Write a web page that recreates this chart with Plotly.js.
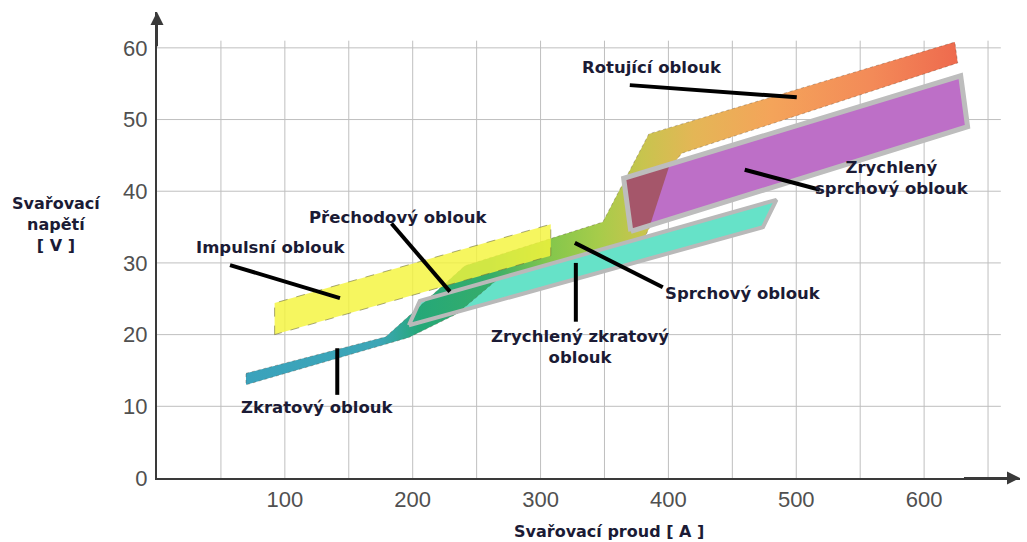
<!DOCTYPE html>
<html>
<head>
<meta charset="utf-8">
<script src="https://cdn.plot.ly/plotly-3.0.1.min.js"></script>
<style>html,body{margin:0;padding:0;background:#fff;}#chart{width:1027px;height:542px;}</style>
</head>
<body>
<div id="chart"></div>
<script>
// ---- Axes / ticks ----
const xTickVals = [100, 200, 300, 400, 500, 600];
const yTickVals = [0, 10, 20, 30, 40, 50, 60];
const xGridVals = [50, 100, 150, 200, 250, 300, 350, 400, 450, 500, 550, 600, 650];
const yGridVals = [10, 20, 30, 40, 50, 60];

// ---- Regions (current A, voltage V) ----
// main band: short arc -> transitional -> spray -> rotating arc
const bandX = [69.6, 179, 240.8, 348.7, 384.7, 624, 626.3, 410.5, 401.1, 385.5, 381.5, 268.2, 234.6, 197, 69.6];
const bandY = [14.6, 19.7, 29.6, 35.7, 48.0, 60.8, 57.9, 45.3, 43.2, 35.0, 33.6, 28.0, 22.9, 19.6, 13.0];
const bandStopX = [70, 175, 205, 262, 305, 345, 380, 420, 480, 560, 626];
const bandStopColor = ['#3aa2bc', '#3ca6b6', '#25a878', '#36ad6a', '#82c64c', '#a6cc4a', '#c8c44e', '#e4b656', '#f4a45a', '#f38a58', '#ee6a4e'];

// pulsed arc (Impulsní oblouk)
const impulsX = [92, 92, 308, 308];
const impulsY = [20.0, 24.4, 35.4, 31.0];

// accelerated short arc (Zrychlený zkratový oblouk)
const zzX = [197, 205.6, 484.5, 474];
const zzY = [21.3, 24.7, 38.8, 35.0];

// accelerated spray arc (Zrychlený sprchový oblouk)
const zsX = [370.6, 365, 628.6, 634];
const zsY = [34.4, 41.8, 56.1, 49.0];

// overlap of ramp with accelerated spray arc
const ovX = [370.6, 365, 401, 385.5];
const ovY = [34.4, 41.8, 43.7, 35.2];

// ---- Labels ----
const labelText = ['Rotující oblouk', 'Zrychlený<br>sprchový oblouk', 'Impulsní oblouk', 'Přechodový oblouk', 'Sprchový oblouk', 'Zrychlený zkratový<br>oblouk', 'Zkratový oblouk'];
const labelX = [387, 574.7, 88.4, 189.2, 458.2, 330.7, 125.9];
const labelY = [57.2, 41.8, 32.1, 36.4, 25.8, 18.3, 9.8];

// ---- Pointer lines ----
const pointerStartX = [369.8, 459.7, 57.1, 183.4, 326.8, 327.6, 141];
const pointerStartY = [54.8, 43.0, 29.7, 35.5, 32.8, 30.0, 18.1];
const pointerEndX = [500.4, 518.4, 143.1, 229.1, 395.6, 327.6, 141];
const pointerEndY = [53.1, 40.2, 25.1, 26.0, 26.6, 21.8, 11.6];

const xTitle = 'Svařovací proud [ A ]';
const yTitle = 'Svařovací<br>napětí<br>[ V ]';

function closed(a) { return a.concat([a[0]]); }

const TEXTC = '#1b1b35';
const traces = [];

traces.push({x: closed(zzX), y: closed(zzY), mode: 'lines', fill: 'toself', fillcolor: '#66e2c8', line: {width: 0}, hoverinfo: 'skip'});

const span = bandStopX[bandStopX.length - 1] - bandStopX[0];
traces.push({
  x: closed(bandX), y: closed(bandY), mode: 'lines', fill: 'toself',
  line: {width: 1, color: 'rgba(90,70,50,0.35)', dash: 'dot'},
  fillgradient: {type: 'horizontal', start: bandStopX[0], stop: bandStopX[bandStopX.length - 1],
    colorscale: bandStopX.map((v, i) => [(v - bandStopX[0]) / span, bandStopColor[i]])},
  hoverinfo: 'skip'
});

traces.push({x: closed(impulsX), y: closed(impulsY), mode: 'lines', fill: 'toself', fillcolor: 'rgba(244,244,60,0.82)', line: {width: 1, color: 'rgba(110,110,60,0.6)', dash: 'dash'}, hoverinfo: 'skip'});

traces.push({x: closed(zsX), y: closed(zsY), mode: 'lines', fill: 'toself', fillcolor: '#bd6fc7', line: {width: 0}, hoverinfo: 'skip'});
traces.push({x: closed(ovX), y: closed(ovY), mode: 'lines', fill: 'toself', fillcolor: '#a5566a', line: {width: 0}, hoverinfo: 'skip'});

traces.push({x: closed(zzX), y: closed(zzY), mode: 'lines', line: {width: 4, color: '#b9b9b9'}, hoverinfo: 'skip'});
traces.push({x: closed(zsX), y: closed(zsY), mode: 'lines', line: {width: 5, color: '#bdbdbd'}, hoverinfo: 'skip'});

const px = [], py = [];
for (let i = 0; i < pointerStartX.length; i++) {
  px.push(pointerStartX[i], pointerEndX[i], null);
  py.push(pointerStartY[i], pointerEndY[i], null);
}
traces.push({x: px, y: py, mode: 'lines', line: {width: 4, color: '#000'}, hoverinfo: 'skip'});

const shapes = [];
xGridVals.forEach(v => shapes.push({type: 'line', xref: 'x', yref: 'y', x0: v, x1: v, y0: 0, y1: 61, layer: 'below', line: {color: '#bfbfbf', width: 1}}));
yGridVals.forEach(v => shapes.push({type: 'line', xref: 'x', yref: 'y', x0: 0, x1: 660, y0: v, y1: v, layer: 'below', line: {color: '#bfbfbf', width: 1}}));

const annotations = labelText.map((t, i) => ({
  x: labelX[i], y: labelY[i], xref: 'x', yref: 'y', text: t, showarrow: false,
  xanchor: 'center', yanchor: 'middle',
  font: {family: 'DejaVu Sans', size: 16.5, color: TEXTC, weight: 'bold'}
}));
annotations.push({x: -0.117, y: 0.545, xref: 'paper', yref: 'paper', text: yTitle, showarrow: false, align: 'center',
  xanchor: 'center', yanchor: 'middle',
  font: {family: 'DejaVu Sans', size: 16, color: TEXTC, weight: 'bold'}});
annotations.push({x: 0.524, y: -0.114, xref: 'paper', yref: 'paper', text: xTitle, showarrow: false,
  xanchor: 'center', yanchor: 'middle',
  font: {family: 'DejaVu Sans', size: 16, color: TEXTC, weight: 'bold'}});
// axis arrows
annotations.push({x: 675, y: 0, ax: 630, ay: 0, xref: 'x', yref: 'y', axref: 'x', ayref: 'y', text: '', showarrow: true, arrowhead: 2, arrowsize: 1.3, arrowwidth: 2, arrowcolor: '#3a3a3a'});
annotations.push({x: 0, y: 65, ax: 0, ay: 60, xref: 'x', yref: 'y', axref: 'x', ayref: 'y', text: '', showarrow: true, arrowhead: 2, arrowsize: 1.3, arrowwidth: 2, arrowcolor: '#3a3a3a'});

const layout = {
  width: 1027, height: 542,
  margin: {l: 157, r: 7, t: 12, b: 64},
  paper_bgcolor: '#fff', plot_bgcolor: '#fff',
  showlegend: false,
  xaxis: {range: [0, 675], tickvals: xTickVals, ticktext: xTickVals.map(String), showgrid: false, zeroline: false,
    showline: true, linecolor: '#3a3a3a', linewidth: 2, ticks: '', ticklabelstandoff: 1,
    tickfont: {family: 'Liberation Sans', size: 22, color: '#505050'}},
  yaxis: {range: [0, 65], tickvals: yTickVals, ticktext: yTickVals.map(String), showgrid: false, zeroline: false,
    showline: true, linecolor: '#3a3a3a', linewidth: 2, ticks: '', ticklabelstandoff: 3,
    tickfont: {family: 'Liberation Sans', size: 22, color: '#505050'}},
  shapes: shapes,
  annotations: annotations
};

Plotly.newPlot('chart', traces, layout, {staticPlot: true});
</script>
</body>
</html>
